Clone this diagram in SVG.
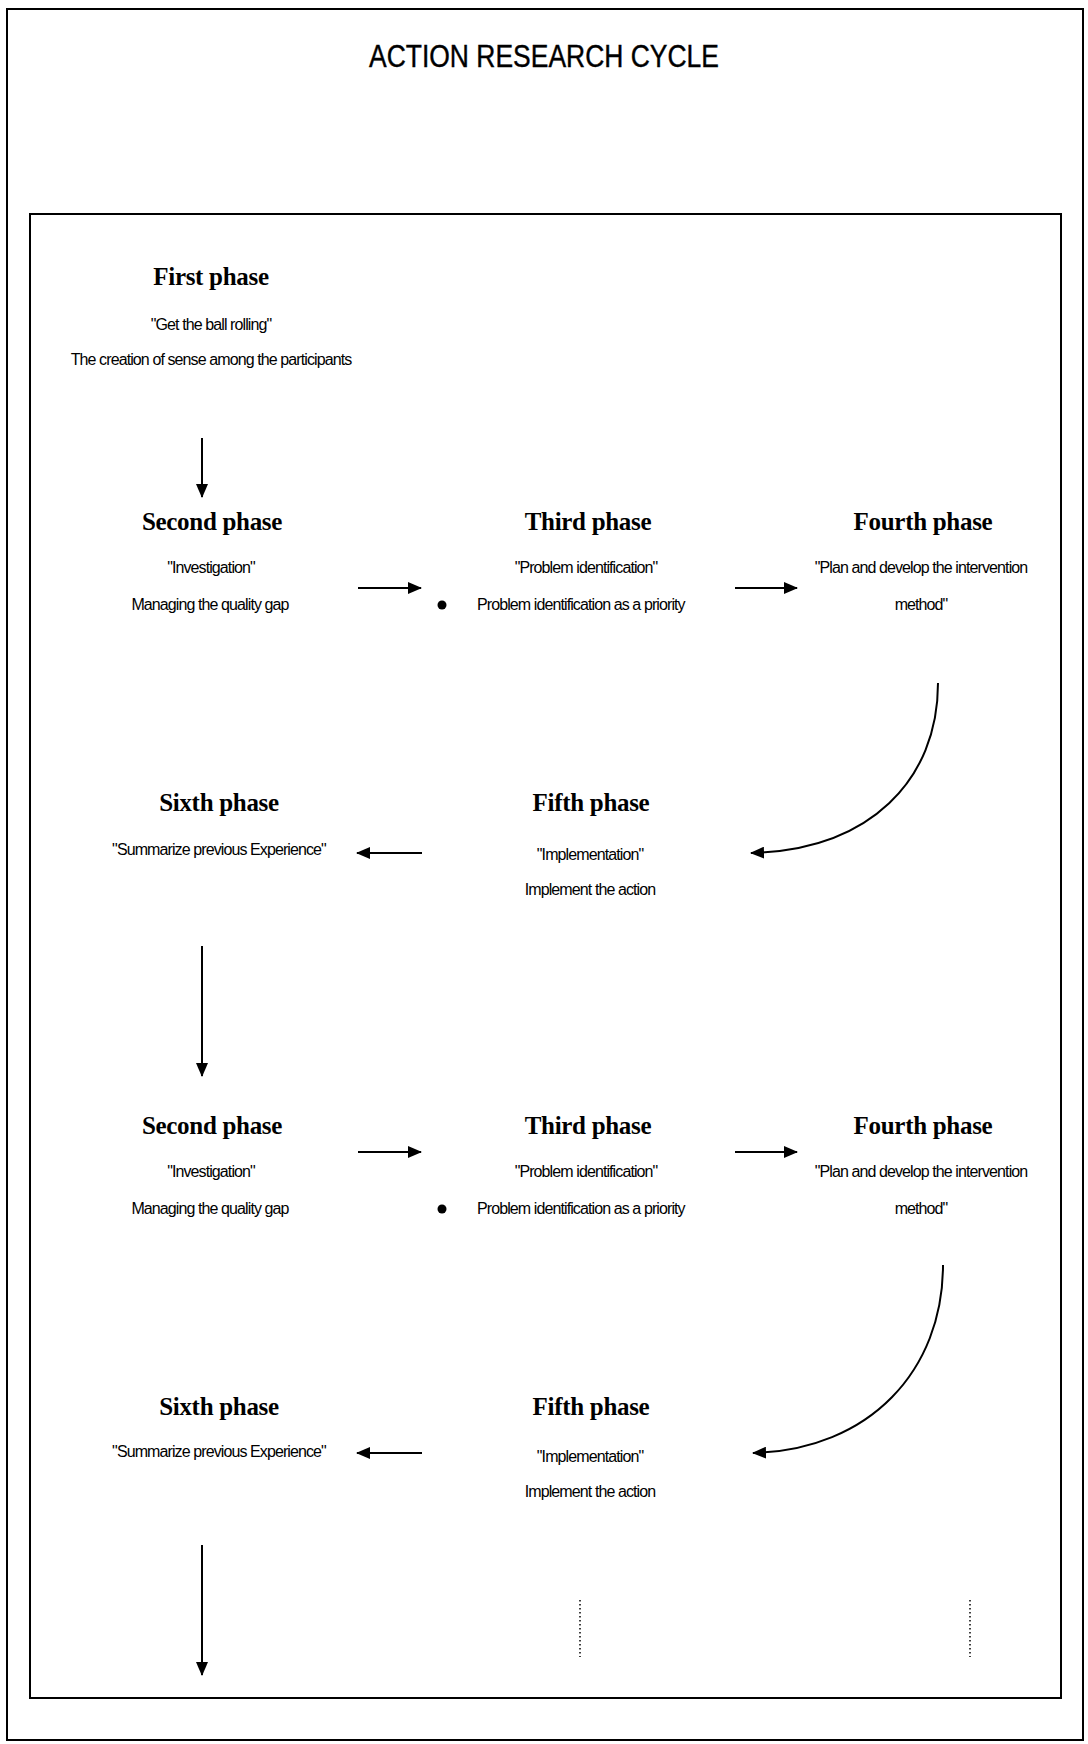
<svg xmlns="http://www.w3.org/2000/svg" width="1088" height="1744" viewBox="0 0 1088 1744">
<defs>
<style>
.frame{fill:none;stroke:#000;stroke-width:2}
.ttl{font-family:"Liberation Sans",Arial,sans-serif;font-size:31px;text-anchor:middle;fill:#000;stroke:#000;stroke-width:0.4}
.ph{font-family:"Liberation Serif","Times New Roman",serif;font-weight:bold;font-size:25px;text-anchor:middle;fill:#000;letter-spacing:-0.3px}
.tx{font-family:"Liberation Sans",Arial,sans-serif;font-size:16px;text-anchor:middle;fill:#000;letter-spacing:-0.9px}
.tl{text-anchor:start}
.ln{fill:none;stroke:#000;stroke-width:2}
.dot{fill:none;stroke:#000;stroke-width:1.5;stroke-dasharray:1.5 2.5}
</style>
<marker id="ah" viewBox="0 0 14 12" refX="13" refY="6" markerWidth="14" markerHeight="12" markerUnits="userSpaceOnUse" orient="auto">
<path d="M0,0 L14,6 L0,12 Z" fill="#000"/>
</marker>
</defs>
<rect width="1088" height="1744" fill="#fff"/>
<rect class="frame" x="7" y="9" width="1076" height="1731"/>
<rect class="frame" x="30" y="214" width="1031" height="1484"/>
<text class="ttl" x="544" y="67" textLength="350" lengthAdjust="spacingAndGlyphs">ACTION RESEARCH CYCLE</text>

<g id="first-phase">
<text class="ph" x="211" y="285">First phase</text>
<text class="tx" x="211" y="330">"Get the ball rolling"</text>
<text class="tx" x="211" y="365">The creation of sense among the participants</text>
</g>

<g id="second-phase-1">
<text class="ph" x="212" y="530">Second phase</text>
<text class="tx" x="211" y="573">"Investigation"</text>
<text class="tx" x="210" y="610">Managing the quality gap</text>
</g>
<g id="third-phase-1">
<text class="ph" x="588" y="530">Third phase</text>
<text class="tx" x="586" y="573">"Problem identification"</text>
<circle cx="442" cy="605" r="4.5" fill="#000"/>
<text class="tx tl" x="477" y="610">Problem identification as a priority</text>
</g>
<g id="fourth-phase-1">
<text class="ph" x="923" y="530">Fourth phase</text>
<text class="tx" x="921" y="573">"Plan and develop the intervention</text>
<text class="tx" x="921" y="610">method"</text>
</g>
<g id="sixth-phase-1">
<text class="ph" x="219" y="811">Sixth phase</text>
<text class="tx" x="219" y="855">"Summarize previous Experience"</text>
</g>
<g id="fifth-phase-1">
<text class="ph" x="591" y="811">Fifth phase</text>
<text class="tx" x="590" y="860">"Implementation"</text>
<text class="tx" x="590" y="895">Implement the action</text>
</g>

<g id="second-phase-2">
<text class="ph" x="212" y="1134">Second phase</text>
<text class="tx" x="211" y="1177">"Investigation"</text>
<text class="tx" x="210" y="1214">Managing the quality gap</text>
</g>
<g id="third-phase-2">
<text class="ph" x="588" y="1134">Third phase</text>
<text class="tx" x="586" y="1177">"Problem identification"</text>
<circle cx="442" cy="1209" r="4.5" fill="#000"/>
<text class="tx tl" x="477" y="1214">Problem identification as a priority</text>
</g>
<g id="fourth-phase-2">
<text class="ph" x="923" y="1134">Fourth phase</text>
<text class="tx" x="921" y="1177">"Plan and develop the intervention</text>
<text class="tx" x="921" y="1214">method"</text>
</g>
<g id="sixth-phase-2">
<text class="ph" x="219" y="1415">Sixth phase</text>
<text class="tx" x="219" y="1457">"Summarize previous Experience"</text>
</g>
<g id="fifth-phase-2">
<text class="ph" x="591" y="1415">Fifth phase</text>
<text class="tx" x="590" y="1462">"Implementation"</text>
<text class="tx" x="590" y="1497">Implement the action</text>
</g>

<g id="connectors">
<line class="ln" x1="202" y1="438" x2="202" y2="497" marker-end="url(#ah)"/>
<line class="ln" x1="358" y1="588" x2="421" y2="588" marker-end="url(#ah)"/>
<line class="ln" x1="735" y1="588" x2="797" y2="588" marker-end="url(#ah)"/>
<path class="ln" d="M938,683 C938,780 870,850 751,853" marker-end="url(#ah)"/>
<line class="ln" x1="422" y1="853" x2="357" y2="853" marker-end="url(#ah)"/>
<line class="ln" x1="202" y1="946" x2="202" y2="1076" marker-end="url(#ah)"/>
<line class="ln" x1="358" y1="1152" x2="421" y2="1152" marker-end="url(#ah)"/>
<line class="ln" x1="735" y1="1152" x2="797" y2="1152" marker-end="url(#ah)"/>
<path class="ln" d="M943,1265 C943,1370 870,1450 753,1453" marker-end="url(#ah)"/>
<line class="ln" x1="422" y1="1453" x2="357" y2="1453" marker-end="url(#ah)"/>
<line class="ln" x1="202" y1="1545" x2="202" y2="1675" marker-end="url(#ah)"/>
<line class="dot" x1="580" y1="1600" x2="580" y2="1657"/>
<line class="dot" x1="970" y1="1600" x2="970" y2="1657"/>
</g>
</svg>
